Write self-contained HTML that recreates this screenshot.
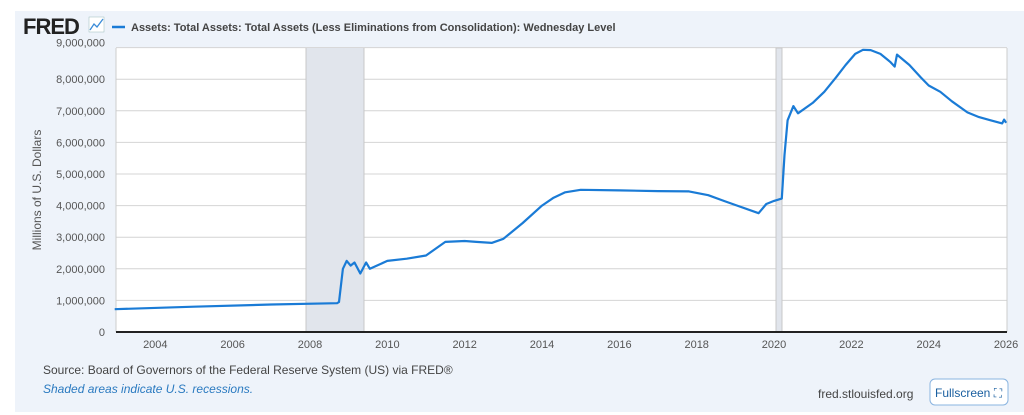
<!DOCTYPE html>
<html><head><meta charset="utf-8"><style>
body{margin:0;background:#fff;width:1024px;height:415px;overflow:hidden;font-family:"Liberation Sans",sans-serif}
#p{position:absolute;left:15px;top:11px;width:1009px;height:401px;background:#eef3fa}
svg{position:absolute;left:0;top:0}
</style></head><body>
<div id="p"></div>
<svg width="1024" height="415" id="s" font-family="Liberation Sans, sans-serif">
<text x="23" y="34" font-size="22" font-weight="bold" fill="#222" letter-spacing="-1">FRED</text>
<rect x="89" y="17" width="15" height="15" fill="#fff" stroke="#9bb" stroke-width="0.5"/>
<polyline points="90,30 94,24 97,27 103,19" fill="none" stroke="#3a8bd8" stroke-width="1.3"/>
<line x1="112" y1="27" x2="125" y2="27" stroke="#1a7bd6" stroke-width="2.5"/>
<text x="131" y="31" font-size="11" font-weight="bold" fill="#444">Assets: Total Assets: Total Assets (Less Eliminations from Consolidation): Wednesday Level</text>
<rect x="116" y="48" width="891" height="284" fill="#fff"/>
<g id="g"></g>
<rect x="306" y="48" width="58" height="284" fill="#e1e5ec"/>
<line x1="306" y1="48" x2="306" y2="332" stroke="#c8c8c8"/>
<line x1="364" y1="48" x2="364" y2="332" stroke="#c8c8c8"/>
<rect x="776" y="48" width="6" height="284" fill="#e1e5ec" stroke="#c8c8c8"/>
<polyline id="l" fill="none" stroke="#1a7bd6" stroke-width="2.2" stroke-linejoin="round"/>
<line x1="116" y1="332" x2="1007" y2="332" stroke="#222" stroke-width="2"/>
<text transform="translate(41,190) rotate(-90)" text-anchor="middle" font-size="12" fill="#555">Millions of U.S. Dollars</text>
<text x="43" y="374" font-size="12" fill="#444">Source: Board of Governors of the Federal Reserve System (US) via FRED®</text>
<text x="43" y="393" font-size="12" font-style="italic" fill="#2a7ac0">Shaded areas indicate U.S. recessions.</text>
<text x="818" y="398" font-size="12" fill="#444">fred.stlouisfed.org</text>
<rect x="930" y="379" width="78" height="26" rx="5" fill="#fff" stroke="#8ab4e0"/>
<text x="935" y="397" font-size="12" fill="#1a5fa0">Fullscreen ⛶</text>
</svg>
<script>
var g=document.getElementById('g'),h='';
function X(y){return 310+(y-2008)*38.67}
function Y(v){return 332-v*31.6}
for(var i=1;i<=9;i++){var y=Y(i);h+='<line x1="116" y1="'+y+'" x2="1007" y2="'+y+'" stroke="#d4d4d4"/>';}
for(var i=0;i<=9;i++){h+='<text x="105" y="'+(Y(i)+(i==9?-1:4))+'" text-anchor="end" font-size="11" fill="#555">'+(i==0?'0':i+',000,000')+'</text>';}
for(var yr=2004;yr<=2026;yr+=2){h+='<text x="'+X(yr)+'" y="348" text-anchor="middle" font-size="11" fill="#555">'+yr+'</text>';}
h+='<line x1="116" y1="48" x2="116" y2="332" stroke="#ccc"/><line x1="1007" y1="48" x2="1007" y2="332" stroke="#ccc"/>';
g.innerHTML=h;
var d=[[2002.95,0.72],[2005,0.8],[2007,0.87],[2008.7,0.91],[2008.75,0.95],[2008.85,2.0],[2008.95,2.25],[2009.05,2.1],[2009.15,2.2],[2009.3,1.85],[2009.45,2.2],[2009.55,2.0],[2010.0,2.25],[2010.5,2.32],[2011.0,2.42],[2011.5,2.85],[2012.0,2.88],[2012.3,2.85],[2012.7,2.82],[2013.0,2.95],[2013.5,3.45],[2014.0,4.0],[2014.3,4.25],[2014.6,4.42],[2015.0,4.5],[2016,4.48],[2017,4.46],[2017.8,4.45],[2018.3,4.33],[2018.7,4.15],[2019.0,4.02],[2019.6,3.76],[2019.8,4.05],[2020.0,4.15],[2020.2,4.22],[2020.27,5.6],[2020.35,6.7],[2020.5,7.15],[2020.62,6.92],[2021.0,7.25],[2021.3,7.6],[2021.6,8.05],[2021.85,8.45],[2022.1,8.8],[2022.3,8.93],[2022.5,8.92],[2022.75,8.8],[2023.0,8.55],[2023.12,8.4],[2023.18,8.78],[2023.5,8.45],[2023.8,8.05],[2024.0,7.8],[2024.3,7.6],[2024.6,7.3],[2025.0,6.95],[2025.3,6.8],[2025.6,6.7],[2025.9,6.6],[2025.95,6.72],[2026.0,6.62]];
document.getElementById('l').setAttribute('points',d.map(function(p){return X(p[0]).toFixed(1)+','+Y(p[1]).toFixed(1)}).join(' '));
</script>
</body></html>
